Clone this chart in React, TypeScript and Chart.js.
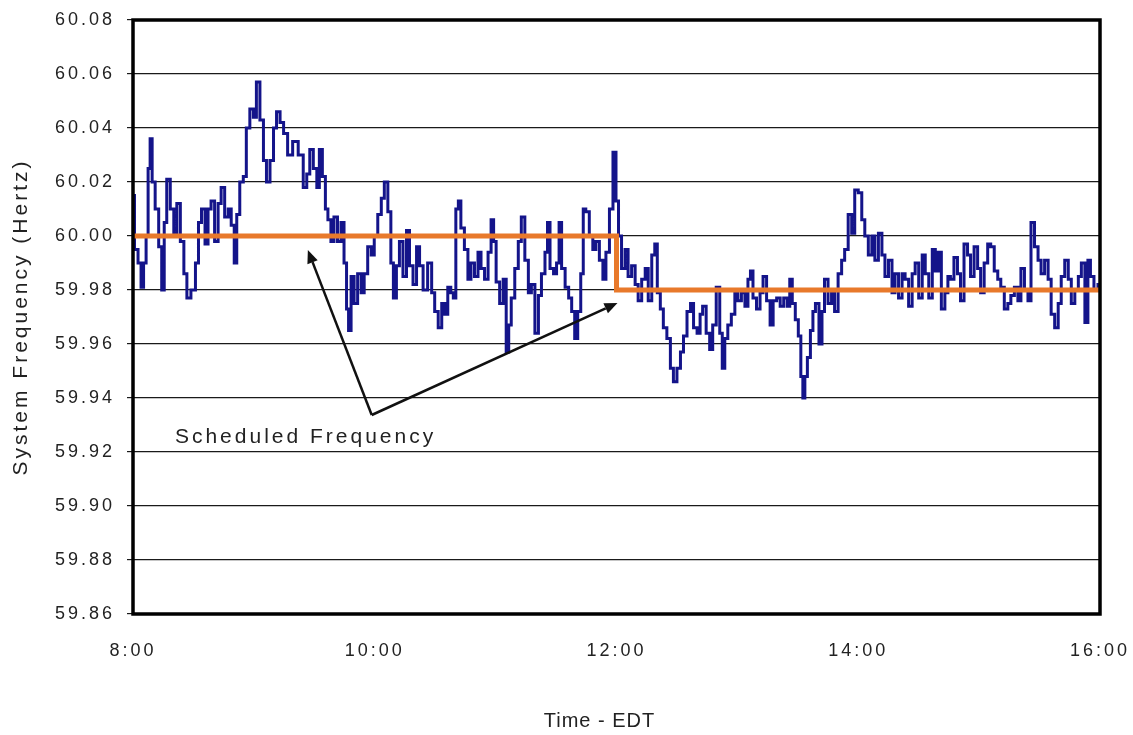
import React, { useEffect, useRef } from "react";
import { Chart, registerables } from "chart.js";
Chart.register(...registerables);

// Minutes after 8:00 EDT
const timeMinutes: number[] = [
  0, 1.5, 3.5, 4.5, 6, 7, 8, 9, 10, 12, 13.5, 15, 16, 17.5, 19.5, 21, 22.5, 24.5, 26, 27.5,
  30, 32, 33, 35, 36.5, 38, 39.5, 41.5, 43, 44.5, 46.5, 48, 49.5, 51, 52, 54, 55.5, 57, 59, 60.5,
  62, 64, 65.5, 67, 69, 70.5, 72, 74, 75.5, 78,
  80.5, 83.5, 85.5, 87, 88.5, 90.5, 92, 93, 95, 96, 97.5, 99, 100.5, 102.5, 104, 105.5, 106.5, 107.5, 109, 110.5,
  112.5, 114, 115.5, 117.5, 119, 120.5, 122.5, 124, 125.5, 127.5, 128.5, 130, 131.5, 133, 135, 136.5, 138, 140, 141.5, 143,
  145, 147.5, 149, 150.5, 152.5, 154, 155.5, 157, 158.5,
  159.5, 161, 162, 163.5, 165.5, 167, 168.5, 170.5, 172, 173.5, 175.5, 177, 178.5, 179.5, 181, 183, 184.5, 186, 187, 188.5,
  190.5, 192, 193.5, 195.5, 197, 198.5, 200.5, 202, 203.5, 205.5, 206, 208, 209.5, 211, 212, 213.5, 215.5, 217, 218.5, 220,
  221.5, 223, 224, 225.5, 227.5, 229, 230.5, 232.5, 234, 235.5, 237.5, 239, 240.5,
  241.5, 243.5, 245, 246.5, 248.5, 250, 251.5, 253.5, 255, 256.5, 258.5, 259.5, 261, 262.5, 264, 266, 267.5, 269, 271, 272.5,
  274, 276, 277.5, 279, 281, 282, 283.5, 285.5, 287, 288.5, 290.5, 292, 293, 294.5, 296, 298, 299.5, 301, 303, 304.5,
  306, 307, 308.5, 310.5, 312, 313.5, 315.5, 317, 318.5, 320.5,
  322, 324, 325.5, 326.5, 328, 329.5, 331, 332, 333, 334, 335.5, 337, 338, 339.5, 341.5, 342.5, 344, 346, 347.5, 349,
  351, 352.5, 354, 356, 357.5, 359, 361, 362.5, 364, 366, 367.5, 369, 371, 372.5, 374, 376, 377.5, 379, 381, 382.5,
  384, 386, 387.5, 389, 391, 392.5, 394, 396, 397.5, 399, 400.5,
  402, 404, 405, 406.5, 408.5, 410, 411.5, 413.5, 415, 416.5, 418.5, 420, 421.5, 423.5, 425, 426.5, 428.5, 430, 431.5, 433.5,
  435, 436.5, 438.5, 440, 441.5, 443.5, 445, 446.5, 448.5, 450, 451.5, 453.5, 455, 456.5, 458.5, 460, 461.5, 463.5, 465, 466.5,
  468.5, 470, 471.5, 473.5, 474.5, 476, 478, 480,
];

// System frequency (Hz)
const frequency: number[] = [
  60.015, 59.995, 59.99, 59.981, 59.99, 60.0, 60.025, 60.036, 60.02, 60.01, 59.996, 59.98, 60.005, 60.021, 60.01, 60.0, 60.012, 59.998, 59.986, 59.977,
  59.98, 59.99, 60.005, 60.01, 59.997, 60.01, 60.013, 59.998, 60.012, 60.018, 60.007, 60.01, 60.004, 59.99, 60.008, 60.02, 60.022, 60.04, 60.047, 60.044,
  60.057, 60.043, 60.028, 60.02, 60.028, 60.04, 60.046, 60.042, 60.038, 60.03,
  60.035, 60.03, 60.018, 60.023, 60.032, 60.025, 60.018, 60.032, 60.022, 60.01, 60.006, 59.998, 60.007, 59.998, 60.005, 59.99, 59.973, 59.965, 59.985, 59.975,
  59.986, 59.979, 59.986, 59.996, 59.993, 60.0, 60.008, 60.014, 60.02, 60.009, 59.99, 59.977, 59.989, 59.998, 59.985, 60.002, 59.989, 59.982, 59.996, 59.989,
  59.98, 59.99, 59.979, 59.972, 59.966, 59.975, 59.971, 59.981, 59.979,
  59.977, 60.01, 60.013, 60.003, 59.995, 59.984, 59.99, 59.985, 59.994, 59.988, 59.984, 59.994, 60.006, 59.998, 59.983, 59.975, 59.984, 59.957, 59.967, 59.977,
  59.988, 59.998, 60.007, 59.991, 59.979, 59.982, 59.964, 59.978, 59.986, 59.994, 60.005, 59.988, 59.986, 59.99, 60.005, 59.988, 59.981, 59.977, 59.972, 59.962,
  59.972, 59.986, 60.01, 60.009, 60.0, 59.995, 59.998, 59.991, 59.984, 59.994, 60.01, 60.031, 60.013,
  60.0, 59.988, 59.995, 59.985, 59.989, 59.982, 59.976, 59.984, 59.988, 59.976, 59.993, 59.997, 59.979, 59.973, 59.966, 59.962, 59.951, 59.946, 59.951, 59.957,
  59.963, 59.972, 59.975, 59.966, 59.964, 59.971, 59.974, 59.964, 59.958, 59.967, 59.981, 59.964, 59.951, 59.962, 59.967, 59.971, 59.979, 59.976, 59.979, 59.974,
  59.984, 59.987, 59.977, 59.973, 59.979, 59.985, 59.976, 59.967, 59.976, 59.977,
  59.974, 59.977, 59.974, 59.984, 59.975, 59.969, 59.963, 59.948, 59.94, 59.948, 59.955, 59.965, 59.972, 59.975, 59.96, 59.972, 59.984, 59.975, 59.98, 59.972,
  59.986, 59.991, 59.995, 60.008, 60.001, 60.017, 60.016, 60.006, 60.0, 59.993, 60.0, 59.991, 60.001, 59.993, 59.985, 59.991, 59.979, 59.986, 59.977, 59.986,
  59.984, 59.974, 59.986, 59.99, 59.977, 59.993, 59.986, 59.977, 59.995, 59.987, 59.994,
  59.973, 59.979, 59.985, 59.984, 59.992, 59.986, 59.976, 59.997, 59.993, 59.985, 59.996, 59.988, 59.979, 59.99, 59.997, 59.996, 59.987, 59.984, 59.981, 59.973,
  59.975, 59.978, 59.981, 59.976, 59.988, 59.98, 59.976, 60.005, 59.996, 59.991, 59.986, 59.991, 59.984, 59.971, 59.966, 59.975, 59.985, 59.991, 59.984, 59.975,
  59.98, 59.985, 59.99, 59.968, 59.991, 59.985, 59.98, 59.982,
];

// Scheduled frequency (Hz)
const scheduledTime: number[] = [0, 240, 240, 480];
const scheduledFreq: number[] = [60.0, 60.0, 59.98, 59.98];

const xTickValues: number[] = [0, 120, 240, 360, 480];
const xTickLabels: string[] = ["8:00", "10:00", "12:00", "14:00", "16:00"];
const yMin = 59.86;
const yMax = 60.08;
const yStep = 0.02;

const xTitle = "Time - EDT";
const yTitle = "System Frequency (Hertz)";
const annotationText = "Scheduled Frequency";
const annotationAnchor: number[] = [20.8, 59.9256];
const arrowOrigin: number[] = [118.5, 59.9337];
const arrowTips: number[][] = [
  [86.8, 59.9948],
  [240.5, 59.9752],
];

const FONT = "'Liberation Sans', Arial, sans-serif";
const SPACING = "3px";

export default function App() {
  const ref = useRef<HTMLCanvasElement | null>(null);

  useEffect(() => {
    document.body.style.margin = "0";
    document.body.style.background = "#ffffff";
    const canvas = ref.current;
    if (!canvas) return;

    const spacingPlugin = {
      id: "spacing",
      beforeLayout(chart: any) {
        (chart.ctx as any).letterSpacing = SPACING;
      },
      beforeDraw(chart: any) {
        const ctx = chart.ctx as any;
        ctx.save();
        ctx.fillStyle = "#ffffff";
        ctx.fillRect(0, 0, chart.width, chart.height);
        ctx.restore();
        ctx.letterSpacing = SPACING;
      },
    };

    const overlayPlugin = {
      id: "overlay",
      afterDatasetsDraw(chart: any) {
        const ctx = chart.ctx as CanvasRenderingContext2D;
        const xs = chart.scales.x;
        const ys = chart.scales.y;
        const a = chart.chartArea;
        ctx.save();
        // plot frame
        ctx.strokeStyle = "#000000";
        ctx.lineWidth = 3.5;
        ctx.strokeRect(a.left, a.top, a.right - a.left, a.bottom - a.top);

        // arrows
        const ox = xs.getPixelForValue(arrowOrigin[0]);
        const oy = ys.getPixelForValue(arrowOrigin[1]);
        ctx.strokeStyle = "#111111";
        ctx.fillStyle = "#111111";
        ctx.lineWidth = 2.5;
        arrowTips.forEach((t) => {
          const tx = xs.getPixelForValue(t[0]);
          const ty = ys.getPixelForValue(t[1]);
          const ang = Math.atan2(ty - oy, tx - ox);
          const hl = 13;
          const hw = 5.5;
          const bx = tx - hl * Math.cos(ang);
          const by = ty - hl * Math.sin(ang);
          ctx.beginPath();
          ctx.moveTo(ox, oy);
          ctx.lineTo(bx, by);
          ctx.stroke();
          ctx.beginPath();
          ctx.moveTo(tx, ty);
          ctx.lineTo(bx + hw * Math.sin(ang), by - hw * Math.cos(ang));
          ctx.lineTo(bx - hw * Math.sin(ang), by + hw * Math.cos(ang));
          ctx.closePath();
          ctx.fill();
        });

        // annotation label
        (ctx as any).letterSpacing = SPACING;
        ctx.font = `21px ${FONT}`;
        ctx.fillStyle = "#222222";
        ctx.textAlign = "left";
        ctx.textBaseline = "middle";
        ctx.fillText(
          annotationText,
          xs.getPixelForValue(annotationAnchor[0]),
          ys.getPixelForValue(annotationAnchor[1])
        );

        // x-axis title
        (ctx as any).letterSpacing = "1px";
        ctx.font = `20px ${FONT}`;
        ctx.textAlign = "center";
        ctx.fillText(xTitle, (a.left + a.right) / 2 - 17, 721);
        ctx.restore();
      },
    };

    const chart = new Chart(canvas, {
      type: "line",
      data: {
        datasets: [
          {
            label: "Scheduled Frequency",
            data: scheduledTime.map((t, i) => ({ x: t, y: scheduledFreq[i] })),
            borderColor: "#E8792B",
            borderWidth: 5,
            pointRadius: 0,
            tension: 0,
            order: 0,
          },
          {
            label: "System Frequency",
            data: timeMinutes.map((t, i) => ({ x: t, y: frequency[i] })),
            borderColor: "#14148A",
            borderWidth: 3,
            pointRadius: 0,
            stepped: "middle",
            order: 1,
          },
        ],
      },
      options: {
        responsive: false,
        animation: false,
        devicePixelRatio: 1,
        layout: { padding: { top: 20, right: 33, left: 0, bottom: 0 } },
        plugins: {
          legend: { display: false },
          tooltip: { enabled: false },
        },
        scales: {
          x: {
            type: "linear",
            min: 0,
            max: 480,
            afterBuildTicks: (s: any) => {
              s.ticks = xTickValues.map((v) => ({ value: v }));
            },
            afterFit: (s: any) => {
              s.height = 121;
              s.paddingLeft = 0;
              s.paddingRight = 0;
            },
            grid: { display: false },
            border: { display: false },
            ticks: {
              padding: 18,
              color: "#222222",
              font: { family: FONT, size: 18 },
              maxRotation: 0,
              callback: (v: any) => {
                const i = xTickValues.indexOf(Number(v));
                return i >= 0 ? xTickLabels[i] : "";
              },
            },
            title: { display: false },
          },
          y: {
            min: yMin,
            max: yMax,
            afterFit: (s: any) => {
              s.width = 133;
              s.paddingTop = 0;
              s.paddingBottom = 0;
            },
            grid: {
              color: "#1a1a1a",
              lineWidth: 1.2,
              tickLength: 6,
              drawTicks: true,
            },
            border: { display: false },
            ticks: {
              stepSize: yStep,
              padding: 12,
              color: "#222222",
              font: { family: FONT, size: 18 },
              callback: (v: any) => Number(v).toFixed(2),
            },
            title: {
              display: true,
              text: yTitle,
              color: "#222222",
              font: { family: FONT, size: 21 },
              padding: { top: 9, bottom: 0 },
            },
          },
        },
      },
      plugins: [spacingPlugin, overlayPlugin],
    });

    return () => chart.destroy();
  }, []);

  return <canvas ref={ref} width={1133} height={735} style={{ display: "block" }} />;
}
